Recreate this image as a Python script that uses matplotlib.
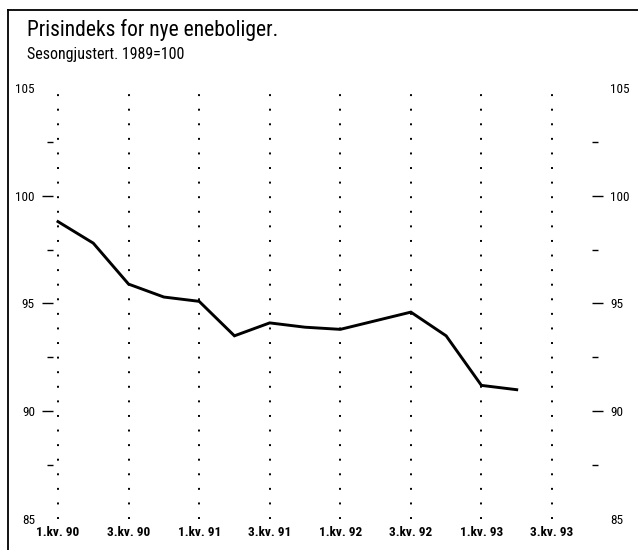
import matplotlib
matplotlib.use("Agg")
import matplotlib.pyplot as plt
from matplotlib import font_manager
from matplotlib.lines import Line2D
from matplotlib.ticker import FixedLocator, NullFormatter

# ---- data ----
quarters = ["1.kv. 90", "2.kv. 90", "3.kv. 90", "4.kv. 90",
            "1.kv. 91", "2.kv. 91", "3.kv. 91", "4.kv. 91",
            "1.kv. 92", "2.kv. 92", "3.kv. 92", "4.kv. 92",
            "1.kv. 93", "2.kv. 93"]
index_values = [98.8, 97.8, 95.9, 95.3, 95.1, 93.5, 94.1, 93.9,
                93.8, 94.2, 94.6, 93.5, 91.2, 91.0]
tick_labels = ["1.kv. 90", "3.kv. 90", "1.kv. 91", "3.kv. 91",
               "1.kv. 92", "3.kv. 92", "1.kv. 93", "3.kv. 93"]
y_major = [85, 90, 95, 100, 105]
y_minor = [87.5, 92.5, 97.5, 102.5]
title = "Prisindeks for nye eneboliger."
subtitle = "Sesongjustert. 1989=100"

names = {f.name for f in font_manager.fontManager.ttflist}
fams = [n for n in ("Roboto Condensed", "Archivo Narrow", "Liberation Sans Narrow") if n in names]
plt.rcParams["font.family"] = fams + ["Liberation Sans", "DejaVu Sans"]

W, H = 638, 550
fig = plt.figure(figsize=(W / 100, H / 100), dpi=100)

# axes placement in pixels
ax_left, ax_right = 53, 592
ax_top, ax_bottom = 88, 519
ax = fig.add_axes([ax_left / W, 1 - ax_bottom / H,
                   (ax_right - ax_left) / W, (ax_bottom - ax_top) / H])

x_first_px, x_last_px = 58, 552
n_span = 14
ppu = (x_last_px - x_first_px) / n_span
ax.set_xlim(-(x_first_px - ax_left) / ppu, n_span + (ax_right - x_last_px) / ppu)
ax.set_ylim(85, 105)

xpos = list(range(len(quarters)))
tick_pos = list(range(0, 2 * len(tick_labels), 2))

for p in tick_pos:
    ax.axvline(p, color="black", linestyle=(0, (1, 6.5)), linewidth=1.4,
               ymin=0.0, ymax=0.995, zorder=1)

ax.plot(xpos, index_values, color="black", linewidth=2.1,
        solid_joinstyle="miter", zorder=3)

for s in ax.spines.values():
    s.set_visible(False)

ax.set_xticks(tick_pos)
ax.set_xticklabels(tick_labels, fontsize=9.5, fontweight="bold")
ax.tick_params(axis="x", length=0, pad=5)

ax.yaxis.set_major_locator(FixedLocator(y_major))
ax.yaxis.set_minor_locator(FixedLocator(y_minor))
ax.yaxis.set_minor_formatter(NullFormatter())
ax.set_yticklabels([str(v) for v in y_major])
ax.tick_params(axis="y", which="major", left=True, right=True,
               labelleft=True, labelright=True, direction="out",
               length=8, width=1.0, labelsize=9.5, pad=5)
ax.tick_params(axis="y", which="minor", left=True, right=True,
               direction="out", length=4, width=1.0)
for t in ax.yaxis.get_major_ticks():
    if t.get_loc() in (85, 105):
        t.tick1line.set_visible(False)
        t.tick2line.set_visible(False)

# titles
fig.text(27 / W, 1 - 19 / H, title, fontsize=15.5, va="top", ha="left")
fig.text(27 / W, 1 - 47 / H, subtitle, fontsize=11.5, va="top", ha="left")

# frame
fig.add_artist(Line2D([8 / W, 8 / W], [0, 1 - 10 / H], color="black", linewidth=1.3))
fig.add_artist(Line2D([8 / W, 1], [1 - 10 / H, 1 - 10 / H], color="black", linewidth=1.3))

fig.savefig("out.png", dpi=100)
